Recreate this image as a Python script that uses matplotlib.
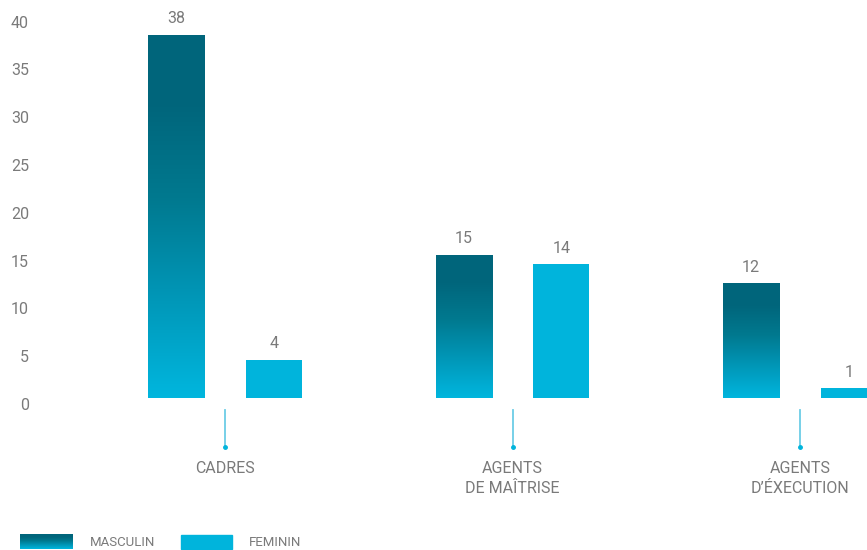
import numpy as np
import matplotlib.pyplot as plt
from matplotlib.colors import LinearSegmentedColormap
from matplotlib.patches import Rectangle

categories = ["CADRES", "AGENTS\nDE MAÎTRISE", "AGENTS\nD\u2019ÉXECUTION"]
masculin = [38, 15, 12]
feminin = [4, 14, 1]
yticks = [0, 5, 10, 15, 20, 25, 30, 35, 40]
legend_labels = ["MASCULIN", "FEMININ"]

dark = "#00657b"
light = "#00b6de"
fem_color = "#00b4dc"
text_color = "#7a7a7a"

plt.rcParams['font.family'] = ['Roboto', 'DejaVu Sans']

# gradient: dark at top, fading to cyan at the bottom
grad_cmap = LinearSegmentedColormap.from_list(
    "masc", [(0.0, light), (0.3, "#0094b4"), (0.55, "#00798f"),
             (0.8, "#00667c"), (1.0, dark)])
grad = np.linspace(0, 1, 256).reshape(-1, 1)

W, H = 867, 550
fig = plt.figure(figsize=(W / 100, H / 100), dpi=100)

ax_left, ax_right = 40, 867
ax_top, ax_bot = 10, 398
ax = fig.add_axes([ax_left / W, 1 - ax_bot / H, (ax_right - ax_left) / W, (ax_bot - ax_top) / H])

px_per_unit = 287.5
ppy = 9.56
x0_px = 225
xlim = ((ax_left - x0_px) / px_per_unit, (ax_right - x0_px) / px_per_unit)
ylim = (0, (ax_bot - ax_top) / ppy)

x = np.arange(len(categories))
offset = 0.17
width = 0.195

bars_m = ax.bar(x - offset, masculin, width, color=dark, zorder=2)
bars_f = ax.bar(x + offset, feminin, width, color=fem_color, zorder=2)

for b in bars_m:
    bx, by = b.get_x(), b.get_y()
    im = ax.imshow(grad, cmap=grad_cmap, origin='lower', aspect='auto',
                   extent=(bx, bx + b.get_width(), by, by + b.get_height()), zorder=3)
    im.set_clip_path(b)

for bars, vals in ((bars_m, masculin), (bars_f, feminin)):
    for b, v in zip(bars, vals):
        ax.annotate(str(v), (b.get_x() + b.get_width() / 2, v), xytext=(0, 6),
                    textcoords='offset points', ha='center', va='bottom',
                    fontsize=11.5, color=text_color, annotation_clip=False)

# connector ticks and category names below the baseline
for xi, name in zip(x, categories):
    ax.plot([xi, xi], [-12 / ppy, -49 / ppy], color="#6ccde6", lw=1.3,
            clip_on=False, zorder=1)
    ax.plot([xi], [-49 / ppy], 'o', color=fem_color, ms=2.5, clip_on=False)
    ax.text(xi, -63 / ppy, name, ha='center', va='top', fontsize=11.5,
            color=text_color, linespacing=1.45, clip_on=False)

ax.set_xlim(*xlim)
ax.set_ylim(*ylim)
ax.set_yticks(yticks)
ax.set_yticklabels([str(t) for t in yticks], va='top', fontsize=11.5, color=text_color)
ax.tick_params(axis='y', length=0, pad=8)
ax.set_xticks([])
for s in ax.spines.values():
    s.set_visible(False)

# legend drawn by hand along the bottom
lg = fig.add_axes([20 / W, 1 - 549 / H, 53 / W, 15 / H])
lg.imshow(grad, cmap=grad_cmap, origin='lower', aspect='auto', extent=(0, 1, 0, 1))
lg.axis('off')
fig.patches.append(Rectangle((181 / W, 1 - 549 / H), 51 / W, 14 / H,
                             transform=fig.transFigure, color=fem_color))
fig.text(90 / W, 1 - 543 / H, legend_labels[0], va='center', ha='left',
         fontsize=9.5, color=text_color)
fig.text(249 / W, 1 - 543 / H, legend_labels[1], va='center', ha='left',
         fontsize=9.5, color=text_color)

fig.savefig("out.png", dpi=100)
